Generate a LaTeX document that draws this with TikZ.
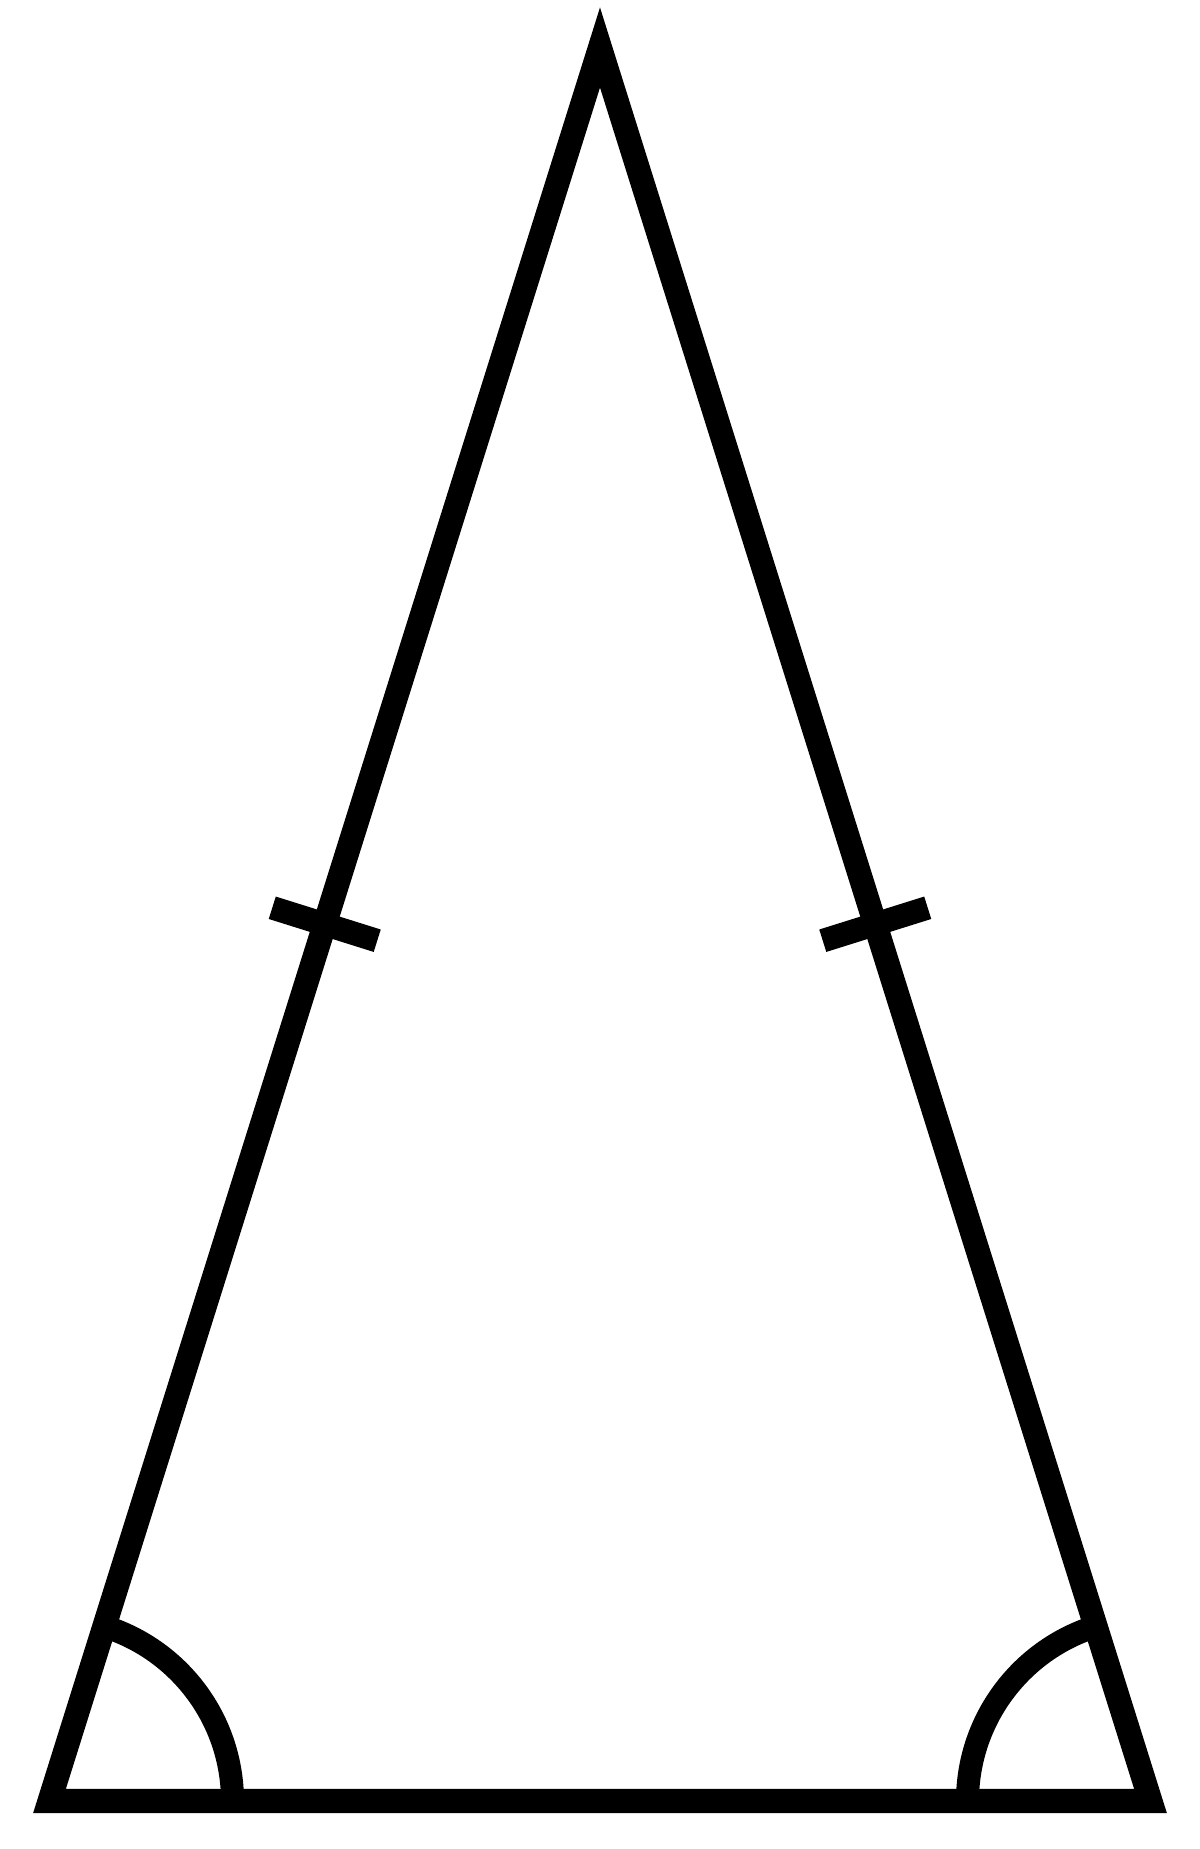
\documentclass[tikz,border=0pt]{standalone}
\usepackage{tikz}
\usetikzlibrary{positioning, calc}
\tikzset{
    triside/.style={draw, line width=0.24cm, line join=miter},
    tickmark/.style={draw, line width=0.235cm, line cap=butt},
    anglemark/.style={draw, line width=0.23cm, line cap=butt}
}
\begin{document}
\begin{tikzpicture}
    \useasboundingbox (0,0) rectangle (12,18.49);
    \coordinate (bl) at (0.495,0.48);
    \coordinate (br) at (11.505,0.48);
    \coordinate (top) at (6.0,18.015);

    \draw[triside] (bl) -- (top) -- (br) -- cycle;

    % equal sides
    \coordinate (ml) at ($(bl)!0.5!(top)$);
    \coordinate (mr) at ($(br)!0.5!(top)$);
    \draw[tickmark] ($(ml)!0.55cm!90:(top)$) -- ($(ml)!0.55cm!-90:(top)$);
    \draw[tickmark] ($(mr)!0.55cm!90:(top)$) -- ($(mr)!0.55cm!-90:(top)$);

    % equal base angles
    \draw[anglemark] ($(bl)+(1.83,0)$) arc[start angle=0, end angle=72.57, radius=1.83cm];
    \draw[anglemark] ($(br)+(-1.83,0)$) arc[start angle=180, end angle=107.43, radius=1.83cm];
\end{tikzpicture}
\end{document}
